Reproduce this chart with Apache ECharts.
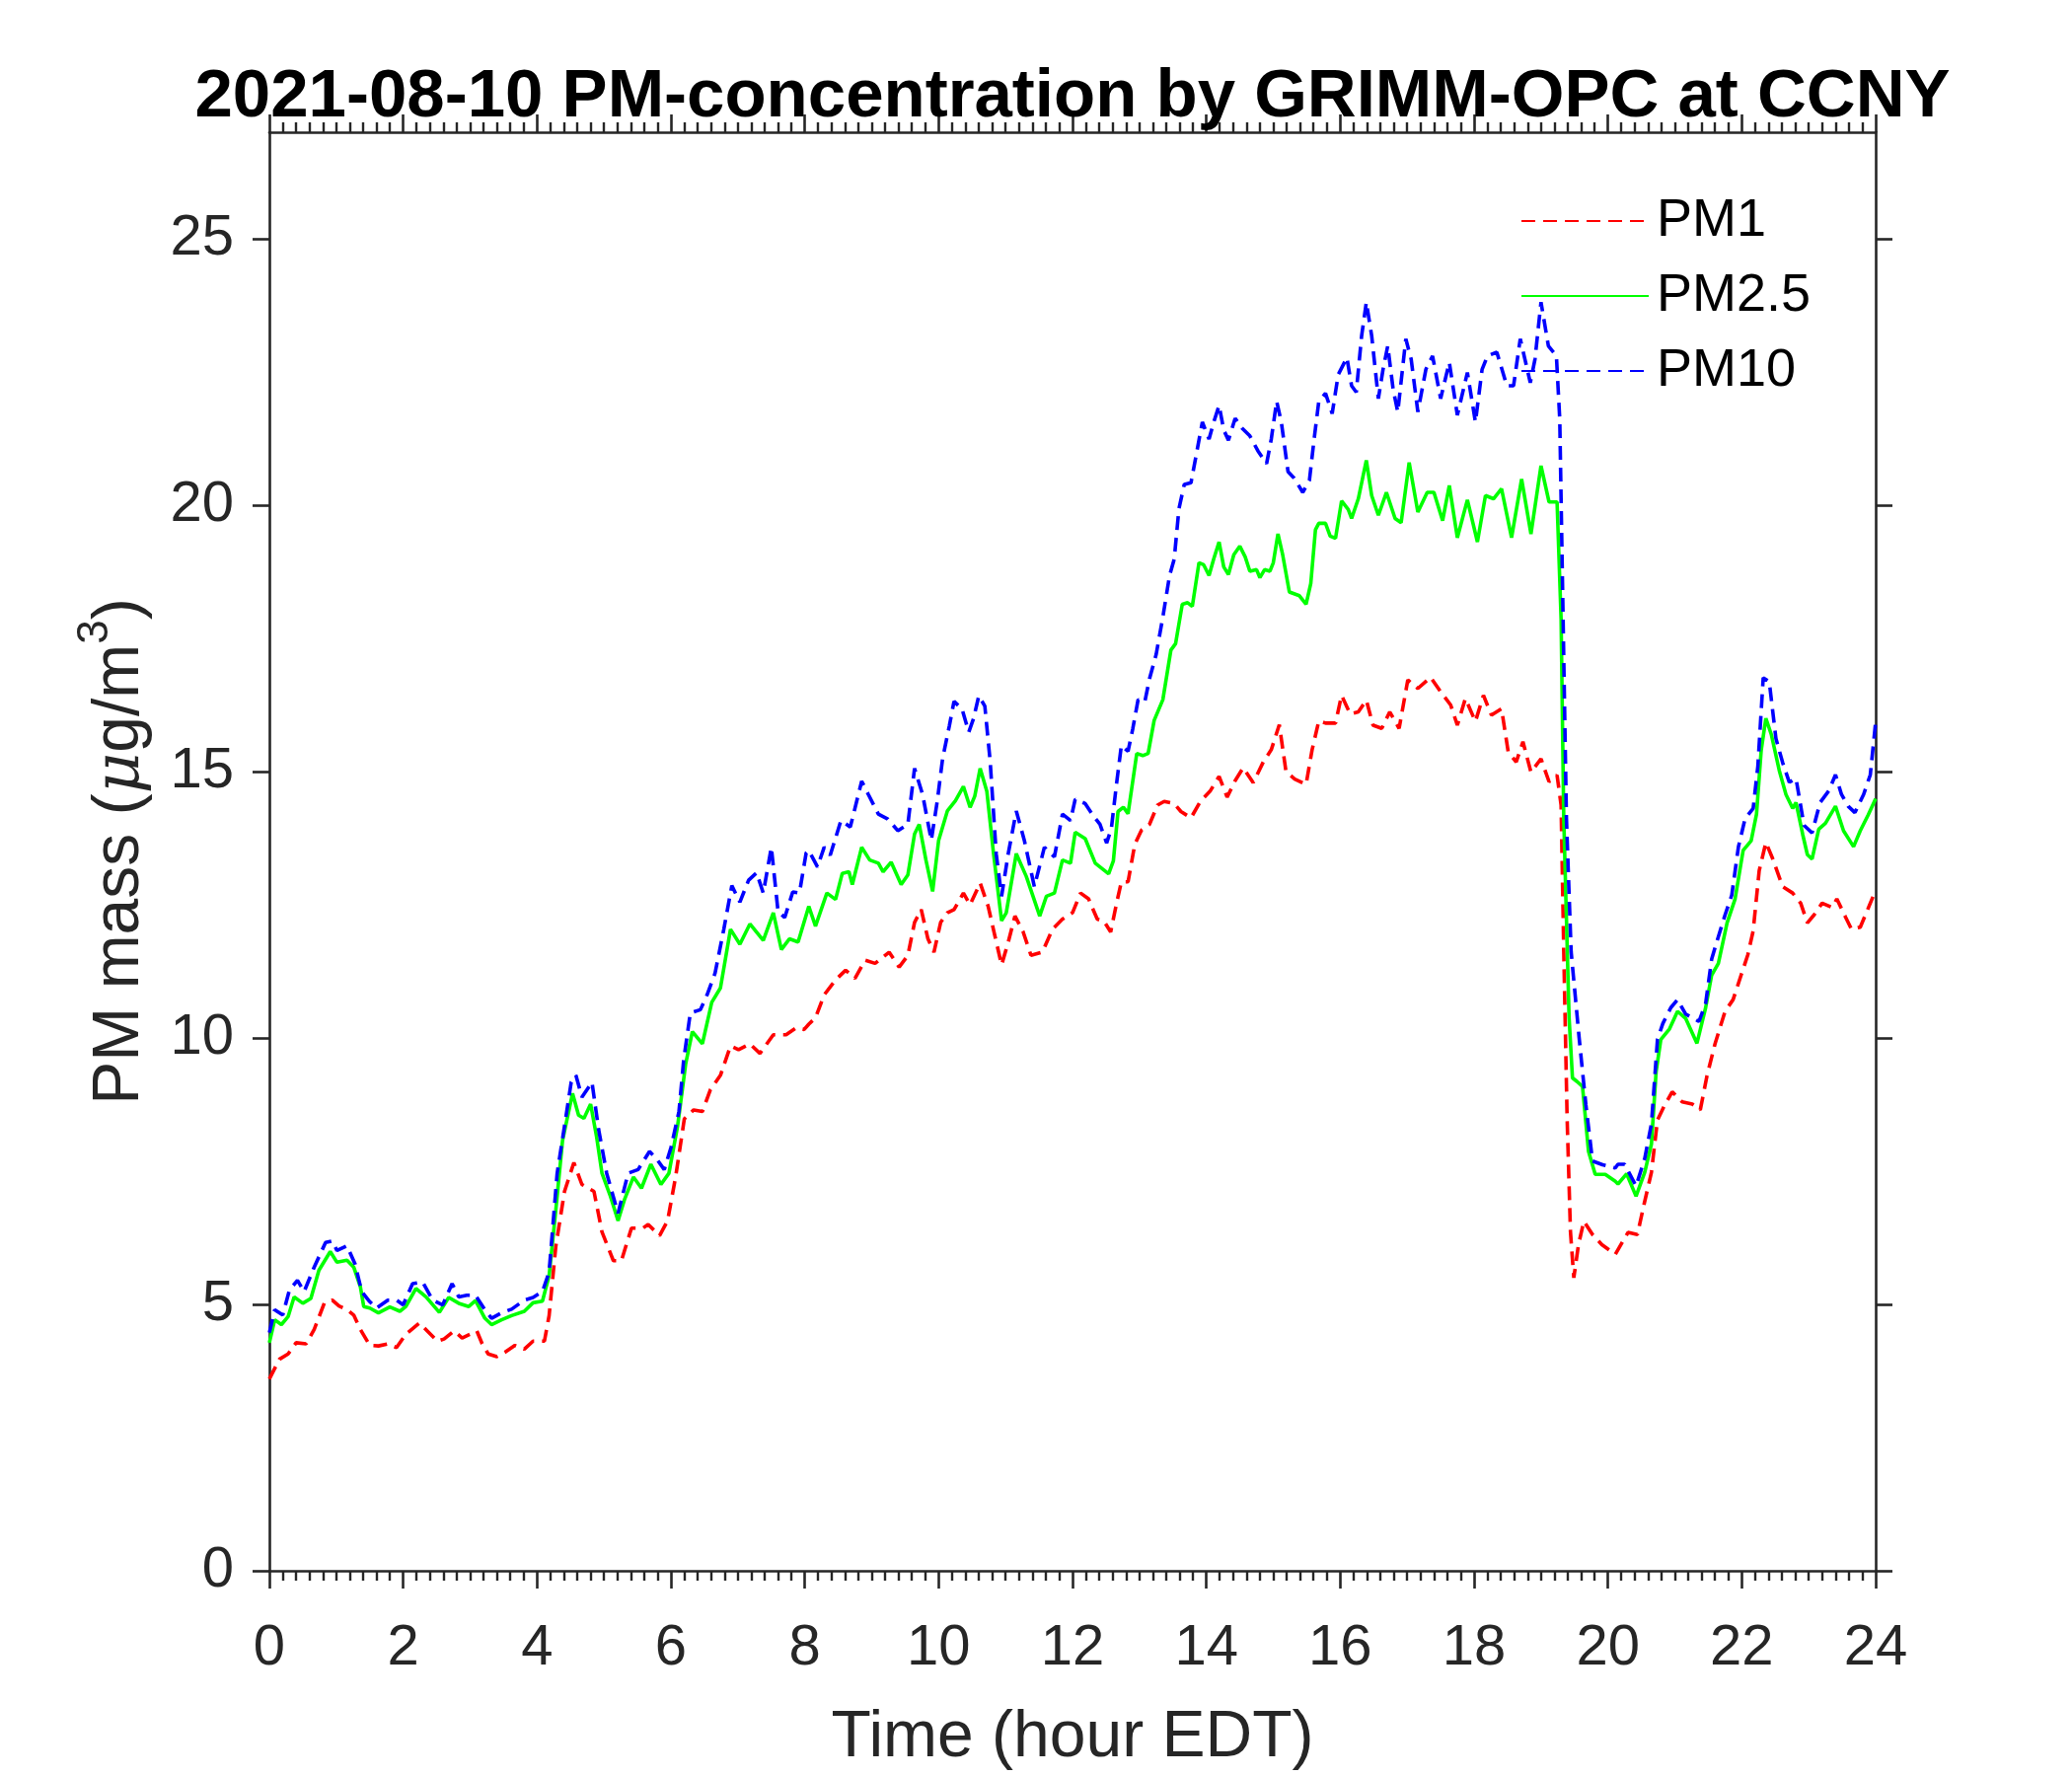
<!DOCTYPE html>
<html>
<head>
<meta charset="utf-8">
<script src="https://cdn.jsdelivr.net/npm/echarts@6/dist/echarts.min.js"></script>
<style>
html,body{margin:0;padding:0;background:#fff;}
#chart{width:2100px;height:1800px;}
</style>
</head>
<body>
<div id="chart"></div>
<script>
const titleText = '2021-08-10 PM-concentration by GRIMM-OPC at CCNY';
const seriesNames = ['PM1', 'PM2.5', 'PM10'];
const xTickValues = [0, 2, 4, 6, 8, 10, 12, 14, 16, 18, 20, 22, 24];
const yTickValues = [0, 5, 10, 15, 20, 25];

const pm1Hours = [0,0.15,0.28,0.40,0.55,0.67,0.82,0.94,1.04,1.16,1.26,1.36,1.50,1.63,1.77,1.90,2.04,2.24,2.36,2.51,2.61,2.76,2.88,3.00,3.10,3.18,3.27,3.40,3.52,3.67,3.81,
3.94,4.11,4.18,4.28,4.41,4.55,4.67,4.85,4.97,5.14,5.26,5.41,5.58,5.66,5.83,5.95,6.07,6.20,6.34,6.47,6.59,6.74,6.89,7.01,7.18,7.33,7.53,7.72,7.87,7.99,
8.06,8.16,8.29,8.46,8.61,8.75,8.90,9.05,9.14,9.26,9.41,9.54,9.64,9.74,9.84,9.93,10.03,10.13,10.23,10.37,10.47,10.62,10.74,10.84,10.94,11.04,11.14,11.26,11.38,11.55,11.70,11.85,12.00,
12.12,12.24,12.37,12.47,12.57,12.66,12.73,12.83,12.93,13.03,13.15,13.27,13.37,13.52,13.62,13.77,13.91,14.06,14.19,14.31,14.43,14.55,14.70,14.85,14.97,15.09,15.19,15.32,15.49,15.58,15.68,15.78,15.93,16.02,16.15,
16.27,16.39,16.49,16.62,16.74,16.88,17.01,17.16,17.35,17.50,17.65,17.75,17.87,18.02,18.14,18.26,18.41,18.51,18.63,18.73,18.85,19.00,19.12,19.24,19.30,19.34,19.39,19.44,19.49,19.56,19.64,19.77,19.91,20.11,
20.30,20.44,20.54,20.65,20.74,20.84,20.96,21.11,21.26,21.38,21.48,21.60,21.75,21.87,21.99,22.09,22.17,22.26,22.36,22.46,22.61,22.76,22.88,22.98,23.08,23.20,23.35,23.42,23.55,23.64,23.77,23.87,23.97,24.00];
const pm1Values = [3.60,3.97,4.07,4.28,4.26,4.53,5.02,5.08,4.97,4.90,4.80,4.53,4.23,4.22,4.26,4.19,4.44,4.65,4.50,4.31,4.35,4.50,4.37,4.44,4.50,4.26,4.07,4.02,4.10,4.23,4.16,
4.31,4.31,4.79,6.09,7.12,7.66,7.25,7.12,6.36,5.82,5.82,6.43,6.43,6.50,6.29,6.57,7.39,8.48,8.65,8.62,9.03,9.30,9.85,9.78,9.89,9.71,10.06,10.06,10.19,10.16,
10.26,10.38,10.81,11.09,11.27,11.12,11.46,11.40,11.49,11.61,11.33,11.55,12.17,12.41,11.86,11.61,12.17,12.35,12.41,12.72,12.50,12.91,12.47,11.92,11.37,11.80,12.29,12.00,11.55,11.61,12.04,12.23,12.35,
12.72,12.61,12.23,12.19,11.99,12.54,12.93,12.93,13.63,13.90,14.01,14.37,14.44,14.40,14.25,14.13,14.44,14.64,14.91,14.52,14.83,15.07,14.79,15.18,15.41,15.88,15.00,14.86,14.76,15.41,15.95,15.91,15.91,16.43,16.08,
16.12,16.34,15.87,15.81,16.12,15.81,16.72,16.56,16.77,16.50,16.25,15.87,16.37,15.94,16.43,16.06,16.18,15.37,15.18,15.56,14.99,15.24,14.81,14.93,14.37,11.62,8.50,6.37,5.50,6.12,6.56,6.31,6.12,5.94,
6.35,6.31,6.88,7.48,8.46,8.72,8.99,8.80,8.76,8.65,9.29,9.89,10.50,10.72,11.18,11.56,12.01,13.14,13.67,13.37,12.84,12.72,12.53,12.16,12.31,12.53,12.45,12.61,12.27,12.04,12.08,12.38,12.68,12.75];

const pm25Hours = [0,0.08,0.18,0.28,0.37,0.50,0.62,0.74,0.91,1.01,1.16,1.26,1.36,1.41,1.50,1.63,1.80,1.95,2.04,2.19,2.34,2.54,2.68,2.83,2.98,3.08,3.22,3.32,3.47,3.62,3.81,
3.94,4.08,4.18,4.28,4.38,4.53,4.62,4.70,4.80,4.89,4.97,5.09,5.21,5.31,5.44,5.56,5.70,5.85,5.97,6.10,6.22,6.32,6.47,6.61,6.74,6.89,7.03,7.18,7.38,7.53,7.65,7.77,7.90,
8.06,8.16,8.33,8.46,8.56,8.66,8.71,8.85,8.97,9.10,9.17,9.29,9.44,9.54,9.64,9.71,9.81,9.91,10.00,10.13,10.25,10.37,10.47,10.54,10.62,10.72,10.82,10.94,11.01,11.16,11.31,11.51,11.61,11.73,11.85,11.97,
12.04,12.19,12.34,12.54,12.61,12.68,12.76,12.83,12.96,13.05,13.13,13.22,13.35,13.47,13.54,13.64,13.72,13.79,13.89,13.96,14.04,14.11,14.19,14.26,14.33,14.41,14.50,14.58,14.65,14.75,14.80,14.87,14.95,15.00,15.07,15.14,15.24,15.39,15.49,15.56,15.63,15.68,15.78,15.85,15.93,16.02,16.12,
16.17,16.27,16.39,16.47,16.57,16.69,16.82,16.91,17.03,17.16,17.30,17.40,17.53,17.63,17.75,17.90,18.05,18.17,18.29,18.41,18.56,18.71,18.85,19.00,19.12,19.24,19.30,19.34,19.42,19.47,19.54,19.62,19.71,19.81,19.96,20.11,
20.15,20.28,20.42,20.55,20.65,20.72,20.79,20.92,21.04,21.16,21.33,21.46,21.55,21.65,21.78,21.90,22.02,22.14,22.22,22.29,22.36,22.44,22.56,22.66,22.76,22.81,22.91,22.98,23.05,23.15,23.25,23.40,23.52,23.67,23.77,23.89,24.00];
const pm25Values = [4.28,4.71,4.62,4.77,5.14,5.02,5.11,5.64,5.99,5.79,5.83,5.70,5.33,4.96,4.93,4.84,4.95,4.87,4.96,5.30,5.14,4.85,5.13,5.02,4.96,5.07,4.74,4.62,4.71,4.79,4.87,
5.03,5.06,5.54,6.77,8.07,8.96,8.55,8.49,8.76,8.14,7.46,7.05,6.57,6.98,7.39,7.18,7.63,7.25,7.46,8.35,9.51,10.12,9.89,10.67,10.94,12.04,11.76,12.14,11.83,12.35,11.66,11.86,11.80,
12.47,12.10,12.72,12.60,13.09,13.12,12.88,13.58,13.34,13.28,13.12,13.30,12.88,13.06,13.83,14.01,13.34,12.75,13.71,14.26,14.45,14.72,14.33,14.54,15.06,14.63,13.46,12.20,12.35,13.46,13.03,12.29,12.66,12.72,13.34,13.28,
13.86,13.74,13.28,13.08,13.32,14.25,14.33,14.21,15.34,15.30,15.34,15.96,16.35,17.28,17.40,18.14,18.17,18.10,18.92,18.88,18.68,18.99,19.31,18.84,18.70,19.07,19.23,19.03,18.76,18.79,18.64,18.79,18.76,18.92,19.46,19.07,18.37,18.30,18.14,18.53,19.54,19.66,19.66,19.42,19.38,20.08,19.92,
19.75,20.12,20.84,20.18,19.81,20.24,19.75,19.67,20.80,19.87,20.24,20.24,19.71,20.37,19.39,20.10,19.31,20.18,20.12,20.31,19.39,20.49,19.46,20.74,20.06,20.06,17.87,14.12,10.37,9.25,9.18,9.09,7.87,7.44,7.44,7.31,
7.26,7.45,7.03,7.48,8.01,9.37,9.97,10.17,10.50,10.37,9.90,10.57,11.18,11.40,12.16,12.61,13.52,13.70,14.20,15.40,16.00,15.70,15.02,14.57,14.31,14.42,13.82,13.44,13.36,13.92,14.03,14.35,13.89,13.59,13.89,14.19,14.49];

const pm10Hours = [0,0.08,0.20,0.30,0.42,0.52,0.67,0.84,0.94,1.01,1.16,1.28,1.38,1.50,1.60,1.77,1.90,2.00,2.14,2.29,2.44,2.59,2.73,2.83,2.95,3.08,3.22,3.32,3.47,3.62,3.81,
3.94,4.08,4.18,4.30,4.41,4.51,4.58,4.67,4.82,4.92,5.04,5.21,5.36,5.51,5.68,5.78,5.90,6.00,6.12,6.19,6.29,6.44,6.54,6.66,6.79,6.91,7.03,7.16,7.28,7.38,7.50,7.60,7.70,7.82,7.92,8.02,
8.06,8.19,8.29,8.38,8.54,8.68,8.85,8.95,9.10,9.24,9.39,9.54,9.64,9.76,9.89,9.98,10.06,10.16,10.23,10.35,10.45,10.52,10.60,10.69,10.77,10.86,10.94,11.04,11.16,11.28,11.43,11.58,11.73,11.85,11.97,
12.04,12.19,12.31,12.41,12.51,12.58,12.66,12.73,12.83,12.90,12.98,13.08,13.15,13.25,13.35,13.45,13.52,13.59,13.67,13.77,13.86,13.94,14.04,14.11,14.19,14.26,14.33,14.43,14.53,14.65,14.77,14.90,14.97,15.05,15.12,15.22,15.31,15.44,15.54,15.61,15.68,15.78,15.88,15.97,16.10,
16.17,16.24,16.32,16.39,16.47,16.57,16.64,16.71,16.79,16.86,16.98,17.06,17.16,17.28,17.38,17.50,17.63,17.75,17.90,18.02,18.12,18.20,18.34,18.49,18.59,18.69,18.84,18.91,19.00,19.11,19.23,19.28,19.33,19.38,19.45,19.57,19.67,19.77,19.92,20.11,
20.15,20.25,20.42,20.55,20.65,20.74,20.82,20.94,21.04,21.16,21.36,21.46,21.55,21.63,21.75,21.85,21.95,22.05,22.17,22.24,22.32,22.41,22.51,22.61,22.71,22.81,22.93,23.05,23.17,23.30,23.40,23.49,23.59,23.69,23.82,23.92,24.00];
const pm10Values = [4.47,4.90,4.80,5.27,5.45,5.24,5.70,6.16,6.19,6.01,6.10,5.76,5.24,5.05,4.93,5.08,5.08,4.99,5.39,5.42,5.08,4.99,5.39,5.14,5.17,5.17,4.90,4.74,4.84,4.91,5.08,
5.13,5.24,5.61,7.46,8.35,9.17,9.30,8.89,9.17,8.28,7.46,6.71,7.46,7.53,7.87,7.74,7.53,7.94,8.62,9.58,10.47,10.53,10.81,11.22,12.04,12.86,12.55,12.96,13.10,12.72,13.58,12.38,12.26,12.74,12.72,13.47,
13.52,13.21,13.58,13.43,14.08,13.96,14.82,14.57,14.20,14.11,13.89,14.01,15.06,14.57,13.71,14.45,15.25,15.86,16.32,16.17,15.74,15.99,16.42,16.23,15.19,13.46,12.66,13.46,14.26,13.71,12.84,13.58,13.40,14.20,14.08,
14.48,14.40,14.17,14.01,13.66,13.93,14.79,15.49,15.38,15.80,16.35,16.31,16.74,17.20,17.90,18.68,18.99,19.93,20.39,20.42,21.02,21.56,21.24,21.56,21.87,21.41,21.22,21.63,21.45,21.30,21.02,20.78,21.24,21.95,21.56,20.63,20.51,20.24,20.47,21.24,21.95,22.10,21.72,22.45,22.77,
22.24,22.12,23.18,23.81,23.18,22.00,22.55,22.99,22.18,21.75,23.12,22.74,21.75,22.55,22.80,22.00,22.68,21.69,22.49,21.56,22.55,22.80,22.87,22.24,22.24,23.12,22.30,22.74,23.81,22.99,22.80,21.62,17.87,14.12,11.62,10.00,8.75,7.69,7.62,7.56,
7.63,7.63,7.22,7.74,8.39,9.97,10.27,10.57,10.72,10.45,10.31,10.65,11.48,11.82,12.31,12.68,13.59,14.12,14.31,15.10,16.76,16.69,15.62,15.17,14.80,14.87,13.99,13.85,14.42,14.64,14.94,14.57,14.35,14.23,14.57,14.94,15.93];

function pairs(hours, values) {
  return hours.map(function (h, i) { return [h, values[i]]; });
}

const FONT = '"Liberation Sans", Arial, Helvetica, sans-serif';
const AXIS_COLOR = '#262626';

const chart = echarts.init(document.getElementById('chart'), null, {renderer: 'canvas'});

function xAxisCfg(pos, showLabels) {
  return {
    type: 'value', position: pos, min: 0, max: 24, interval: 2,
    axisLine: {show: true, onZero: false, lineStyle: {color: AXIS_COLOR, width: 2.6}},
    axisTick: {show: true, inside: false, length: 18, lineStyle: {color: AXIS_COLOR, width: 2.6}},
    minorTick: {show: true, splitNumber: 10, length: 10, lineStyle: {color: AXIS_COLOR, width: 2.4}},
    splitLine: {show: false},
    axisLabel: {
      show: showLabels, fontFamily: FONT, fontSize: 58, color: AXIS_COLOR, margin: 50,
      customValues: xTickValues
    },
    name: showLabels ? 'Time (hour EDT)' : '',
    nameLocation: 'middle', nameGap: 137,
    nameTextStyle: {fontFamily: FONT, fontSize: 66, color: AXIS_COLOR}
  };
}

function yAxisCfg(pos, showLabels) {
  return {
    type: 'value', position: pos, min: 0, max: 27,
    axisLine: {show: true, onZero: false, lineStyle: {color: AXIS_COLOR, width: 2.6}},
    axisTick: {show: true, inside: false, length: 17, lineStyle: {color: AXIS_COLOR, width: 2.6},
      customValues: yTickValues},
    splitLine: {show: false},
    axisLabel: {
      show: showLabels, fontFamily: FONT, fontSize: 58, color: AXIS_COLOR, margin: 36,
      customValues: yTickValues
    },
    name: showLabels ? '{a|PM mass (}{i|μ}{a|g/m}{s|3}{a|)}' : '',
    nameLocation: 'middle', nameGap: 118,
    nameTextStyle: {
      fontFamily: FONT, fontSize: 66, color: AXIS_COLOR,
      rich: {
        a: {fontFamily: FONT, fontSize: 66, color: AXIS_COLOR, lineHeight: 80, verticalAlign: 'bottom'},
        i: {fontFamily: '"DejaVu Serif", serif', fontStyle: 'italic', fontSize: 64, color: AXIS_COLOR, lineHeight: 80, verticalAlign: 'bottom'},
        s: {fontFamily: FONT, fontSize: 44, color: AXIS_COLOR, lineHeight: 80, verticalAlign: 'top'}
      }
    }
  };
}

const colors = ['#FF0000', '#00FF00', '#0000FF'];
const dash = [14, 8];
const LW = 3.6;

const option = {
  backgroundColor: '#ffffff',
  animation: false,
  title: {
    text: titleText,
    left: 1082, top: 59, textAlign: 'center',
    textStyle: {fontFamily: FONT, fontWeight: 'bold', fontSize: 69, color: '#000000'}
  },
  legend: {
    orient: 'vertical', left: 1536, top: 189,
    itemWidth: 129, itemHeight: 14, itemGap: 16,
    selectedMode: false,
    data: seriesNames,
    itemStyle: {opacity: 0},
    textStyle: {fontFamily: FONT, fontSize: 54, color: '#000000', lineHeight: 60, padding: [0, 0, 0, 3]}
  },
  grid: {left: 273, right: 199, top: 134, bottom: 201, containLabel: false},
  xAxis: [xAxisCfg('bottom', true), xAxisCfg('top', false)],
  yAxis: [yAxisCfg('left', true), yAxisCfg('right', false)],
  series: [
    {name: seriesNames[0], type: 'line', data: pairs(pm1Hours, pm1Values), showSymbol: false, symbol: 'none',
     color: colors[0], lineStyle: {color: colors[0], width: LW, type: dash}},
    {name: seriesNames[1], type: 'line', data: pairs(pm25Hours, pm25Values), showSymbol: false, symbol: 'none',
     color: colors[1], lineStyle: {color: colors[1], width: LW, type: 'solid'}},
    {name: seriesNames[2], type: 'line', data: pairs(pm10Hours, pm10Values), showSymbol: false, symbol: 'none',
     color: colors[2], lineStyle: {color: colors[2], width: LW, type: dash}}
  ]
};
chart.setOption(option);
</script>
</body>
</html>
